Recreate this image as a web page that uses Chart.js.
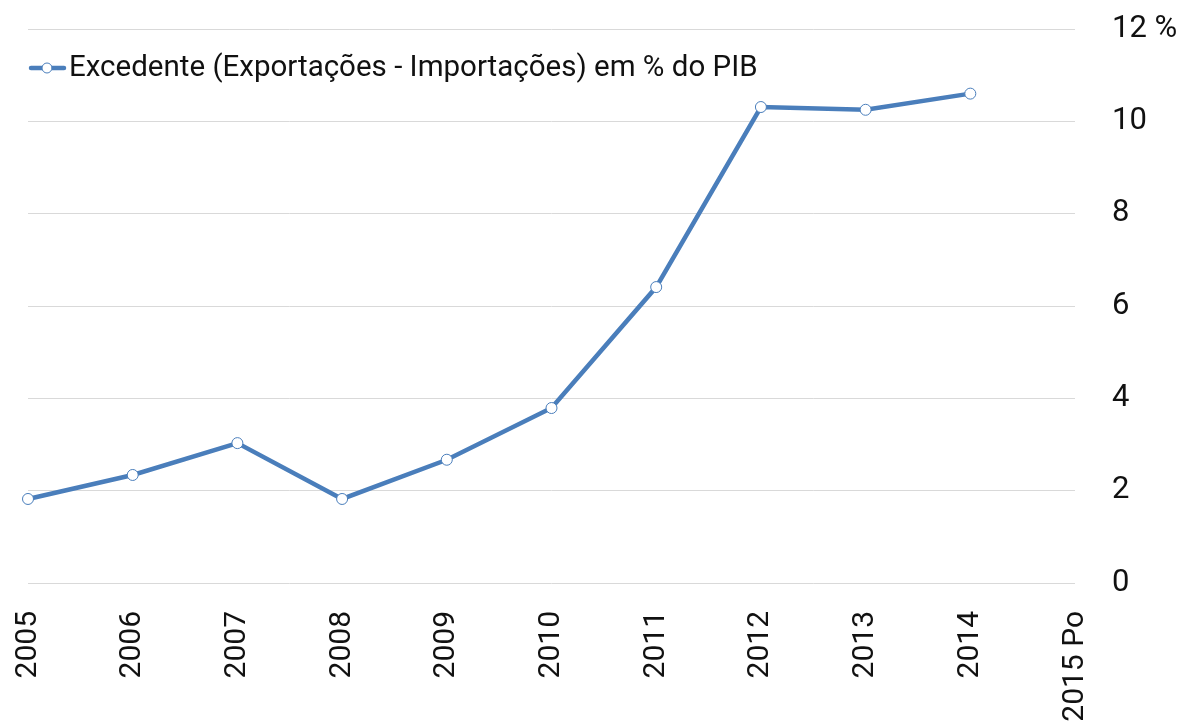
<!DOCTYPE html>
<html>
<head>
<meta charset="utf-8">
<script src="https://cdn.jsdelivr.net/npm/chart.js@4"></script>
<style>
html,body{margin:0;padding:0;background:#fff;}
#wrap{width:1187px;height:728px;position:relative;}
</style>
</head>
<body>
<div id="wrap"><canvas id="c" width="1187" height="728"></canvas></div>
<script>
const categories = ["2005","2006","2007","2008","2009","2010","2011","2012","2013","2014","2015 Po"];
const surplus = [1.82, 2.34, 3.03, 1.82, 2.67, 3.79, 6.41, 10.31, 10.25, 10.6, null];
const seriesName = "Excedente (Exportações - Importações) em % do PIB";
const yTicks = [0, 2, 4, 6, 8, 10, 12];

const FONT = "Roboto, sans-serif";
const blue = "#4A7EBB";
const textColor = "#111";

// legend drawn inside the chart area, top-left
const insideLegend = {
  id: 'insideLegend',
  afterDraw(chart) {
    const ctx = chart.ctx;
    const ds = chart.data.datasets[0];
    const y = 68;
    ctx.save();
    ctx.strokeStyle = ds.borderColor;
    ctx.lineWidth = 4.5;
    ctx.lineCap = 'round';
    ctx.beginPath();
    ctx.moveTo(31, y);
    ctx.lineTo(64, y);
    ctx.stroke();
    ctx.beginPath();
    ctx.arc(47, y, 5, 0, Math.PI * 2);
    ctx.fillStyle = '#fff';
    ctx.fill();
    ctx.lineWidth = 1;
    ctx.stroke();
    ctx.fillStyle = textColor;
    ctx.font = "29.5px " + FONT;
    ctx.textBaseline = 'middle';
    ctx.textAlign = 'left';
    ctx.fillText(ds.label, 69, y + 1);
    ctx.restore();
  }
};

new Chart(document.getElementById('c'), {
  type: 'line',
  data: {
    labels: categories,
    datasets: [{
      label: seriesName,
      data: surplus,
      borderColor: blue,
      backgroundColor: '#fff',
      borderWidth: 4.5,
      pointRadius: 5.5,
      pointBorderWidth: 1,
      pointBackgroundColor: '#fff',
      pointBorderColor: blue,
      tension: 0,
      spanGaps: false
    }]
  },
  plugins: [insideLegend],
  options: {
    responsive: false,
    animation: false,
    layout: { autoPadding: false, padding: { left: 27, top: 29, right: 0, bottom: 0 } },
    plugins: {
      legend: { display: false },
      tooltip: { enabled: false }
    },
    scales: {
      x: {
        offset: false,
        grid: { display: false, drawTicks: false },
        border: { display: false },
        ticks: {
          autoSkip: false,
          maxRotation: 90,
          minRotation: 90,
          padding: 28,
          color: textColor,
          font: { family: FONT, size: 30 }
        },
        afterFit: (s) => { s.height = 145; s.paddingTop = 0; s.paddingBottom = 0; }
      },
      y: {
        position: 'right',
        min: 0,
        max: 12,
        afterBuildTicks: (s) => { s.ticks = yTicks.map(v => ({ value: v })); },
        grid: { color: '#d9d9d9', lineWidth: 1, drawTicks: false },
        border: { display: false },
        ticks: {
          padding: 37,
          color: textColor,
          font: { family: FONT, size: 31 },
          callback: (v) => v === 12 ? '12 %' : String(v)
        },
        afterFit: (s) => { s.width = 112; s.paddingTop = 0; s.paddingBottom = 0; }
      }
    }
  }
});
</script>
</body>
</html>
